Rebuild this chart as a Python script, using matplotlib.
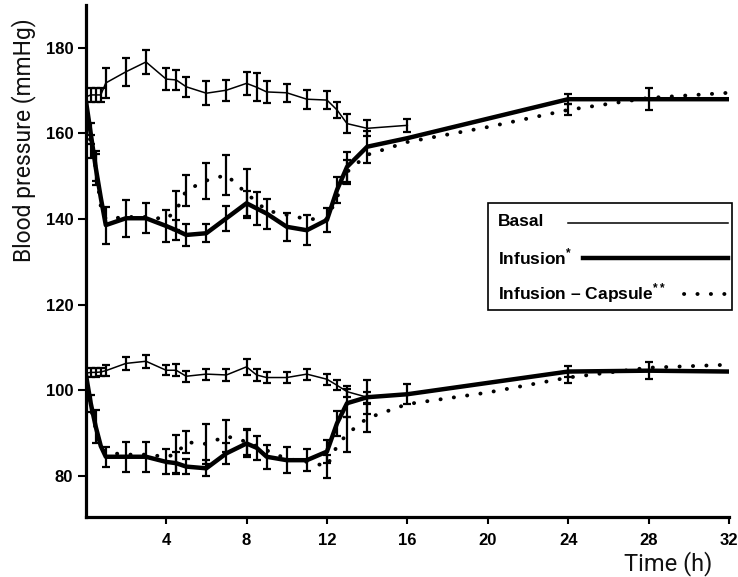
import numpy as np
import matplotlib
matplotlib.use("Agg")
import matplotlib.pyplot as plt
from matplotlib.lines import Line2D
from matplotlib.patches import Rectangle

plt.rcParams['mathtext.fontset'] = 'custom'
plt.rcParams['mathtext.rm'] = 'Liberation Sans'
plt.rcParams['mathtext.bf'] = 'Liberation Sans:bold'

# ---------------- data ----------------
# Systolic
t_basal = [0, 0.25, 0.5, 0.75, 1, 2, 3, 4, 4.5, 5, 6, 7, 8, 8.5, 9, 10, 11, 12, 12.5, 13, 14, 16]
sys_basal = [168.5, 169, 169, 169, 171.8, 174.4, 176.7, 172.7, 172.5, 170.9, 169.4, 170.1, 171.7, 170.8,
             169.7, 169.5, 168.0, 167.8, 165.5, 162.3, 161.2, 161.9]
sys_basal_err = [0, 1.6, 1.6, 1.6, 3.5, 3.3, 2.7, 2.5, 2.3, 2.3, 2.8, 2.5, 2.7, 3.3,
                 2.5, 2.1, 2.2, 2.1, 1.9, 2.3, 1.9, 1.5]
dia_basal = [104, 104.2, 104.2, 104.3, 104.6, 106.3, 106.8, 104.7, 104.7, 103.3, 103.8, 103.6, 105.5, 103.6,
             103.0, 103.0, 103.8, 102.6, 101.2, 99.7, 98.4, 99.0]
dia_basal_err = [0, 1.0, 1.0, 1.0, 1.3, 1.6, 1.5, 1.2, 1.4, 1.3, 1.3, 1.5, 1.8, 1.5,
                 1.3, 1.3, 1.3, 1.3, 1.2, 1.3, 1.3, 0]

t_inf = [0, 0.25, 0.5, 0.75, 1, 2, 3, 4, 4.5, 5, 6, 7, 8, 8.5, 9, 10, 11, 12, 12.5, 13, 14, 16, 24, 28, 32]
sys_inf = [168, 160, 152, 145, 138.6, 140.2, 140.2, 138.4, 137.4, 136.3, 136.7, 140.2, 143.7, 142.5,
           141.3, 138.2, 137.4, 139.8, 146.8, 152.2, 156.9, 158.9, 168.0, 168.0, 168.0]
sys_inf_err = [0, 2.5, 4.0, 0, 4.3, 4.3, 3.5, 3.7, 2.3, 2.5, 2.1, 2.9, 2.9, 3.9,
               3.5, 3.3, 3.5, 2.7, 3.1, 3.5, 3.7, 0, 1.2, 2.5, 0]
dia_inf = [104, 97, 91.5, 87, 84.5, 84.5, 84.5, 83.3, 83.0, 82.2, 81.8, 85.3, 87.6, 86.6,
           84.5, 83.7, 83.7, 85.7, 92.3, 97.0, 98.4, 99.1, 104.4, 104.6, 104.4]
dia_inf_err = [0, 2.0, 3.9, 0, 2.3, 3.5, 3.5, 2.9, 2.5, 1.8, 1.9, 2.5, 3.1, 2.8,
               2.8, 3.1, 2.5, 2.7, 2.9, 3.3, 4.0, 2.3, 1.2, 2.0, 0]

t_cap = [0, 0.25, 0.5, 0.75, 1, 2, 3, 4, 4.5, 5, 6, 7, 8, 8.5, 9, 10, 11, 12, 12.5, 13, 14, 16, 20, 24, 28, 32]
sys_cap = [168, 157, 152, 143, 140, 140.5, 140.5, 140, 142, 146.7, 149, 150.3, 146, 144,
           142, 141, 140, 140, 145, 151, 155, 158, 161.5, 165.5, 168.3, 169.5]
sys_cap_err = [0, 2.7, 3.1, 0, 0, 0, 0, 0, 4.5, 3.7, 4.2, 4.7, 5.8, 0,
               0, 0, 0, 0, 0, 2.7, 0, 0, 0, 1.3, 0, 0]
dia_cap = [104, 96, 91, 87, 85.5, 85, 85, 84.5, 85.1, 87.9, 87.5, 89.3, 88, 87,
           86, 84, 83.3, 82.3, 87, 89.8, 93.5, 96.8, 99.5, 103, 105.3, 106]
dia_cap_err = [0, 0, 0, 0, 0, 0, 0, 0, 4.5, 2.5, 4.7, 3.7, 3.0, 0,
               0, 0, 0, 2.7, 0, 4.1, 3.3, 0, 0, 1.2, 0, 0]

x_ticks = [4, 8, 12, 16, 20, 24, 28, 32]
y_ticks = [80, 100, 120, 140, 160, 180]

# ---------------- figure ----------------
W, H = 738, 577
fig = plt.figure(figsize=(W / 100, H / 100), dpi=100)
ax = fig.add_axes([85.7 / W, 1 - 516.7 / H, (729 - 85.7) / W, (516.7 - 5) / H])
ax.set_xlim(0, 32)
ax.set_ylim(70.5, 190)
for s in ['top', 'right']:
    ax.spines[s].set_visible(False)
for s in ['left', 'bottom']:
    ax.spines[s].set_linewidth(2.3)
    ax.spines[s].set_color('black')

ink = 'black'
thin_lw = 1.1
thick_lw = 3.2
dot_style = (0, (0.05, 3.4))


def ebars(t, v, e):
    t = np.asarray(t, float); v = np.asarray(v, float); e = np.asarray(e, float)
    m = e > 0
    ax.errorbar(t[m], v[m], yerr=e[m], fmt='none', ecolor=ink, elinewidth=1.6,
                capsize=3.2, capthick=1.6, zorder=3)


for vals, errs in [(sys_basal, sys_basal_err), (dia_basal, dia_basal_err)]:
    ax.plot(t_basal, vals, color=ink, lw=thin_lw, zorder=4)
    ebars(t_basal, vals, errs)

for vals, errs in [(sys_inf, sys_inf_err), (dia_inf, dia_inf_err)]:
    ax.plot(t_inf, vals, color=ink, lw=thick_lw, solid_joinstyle='round', zorder=5)
    ebars(t_inf, vals, errs)

for vals, errs in [(sys_cap, sys_cap_err), (dia_cap, dia_cap_err)]:
    ax.plot(t_cap, vals, color=ink, lw=2.8, linestyle=dot_style, dash_capstyle='round', zorder=4)
    ebars(t_cap, vals, errs)

ax.set_xticks(x_ticks)
ax.set_yticks(y_ticks)
ax.tick_params(axis='x', direction='out', length=5, width=1.5, pad=7, labelsize=12)
ax.tick_params(axis='y', direction='out', length=6, width=1.5, pad=3, labelsize=12)
for lab in ax.get_xticklabels() + ax.get_yticklabels():
    lab.set_fontfamily('Liberation Sans')
    lab.set_fontweight('bold')

lightf = ['Roboto', 'Liberation Sans', 'DejaVu Sans']
fig.text(24 / W, 1 - 140 / H, 'Blood pressure (mmHg)', rotation=90, ha='center', va='center',
         fontsize=16.5, family=lightf, fontweight='normal', color='#111111')
fig.text(668 / W, 1 - 564 / H, 'Time (h)', ha='center', va='center',
         fontsize=17, family=lightf, fontweight='normal', color='#111111')

# ---------------- legend (drawn manually) ----------------
fig.patches.append(Rectangle((488 / W, 1 - 310 / H), 244 / W, 107 / H, transform=fig.transFigure,
                             fill=False, edgecolor=ink, lw=1.2))
lf = dict(fontsize=12.5, family='Liberation Sans', fontweight='bold', va='center', ha='left')
fig.text(498 / W, 1 - 222 / H, 'Basal', **lf)
fig.text(498 / W, 1 - 257 / H, r'Infusion$^{\mathbf{*}}$', **lf)
fig.text(498 / W, 1 - 293 / H, r'Infusion – Capsule$^{\mathbf{**}}$', **lf)
fig.lines.append(Line2D([568 / W, 728 / W], [1 - 223 / H] * 2, transform=fig.transFigure,
                        color=ink, lw=thin_lw))
fig.lines.append(Line2D([583 / W, 728 / W], [1 - 258 / H] * 2, transform=fig.transFigure,
                        color=ink, lw=thick_lw))
fig.lines.append(Line2D([684 / W, 728 / W], [1 - 294 / H] * 2, transform=fig.transFigure,
                        color=ink, lw=2.8, linestyle=dot_style, dash_capstyle='round'))

fig.savefig('out.png', dpi=100)
